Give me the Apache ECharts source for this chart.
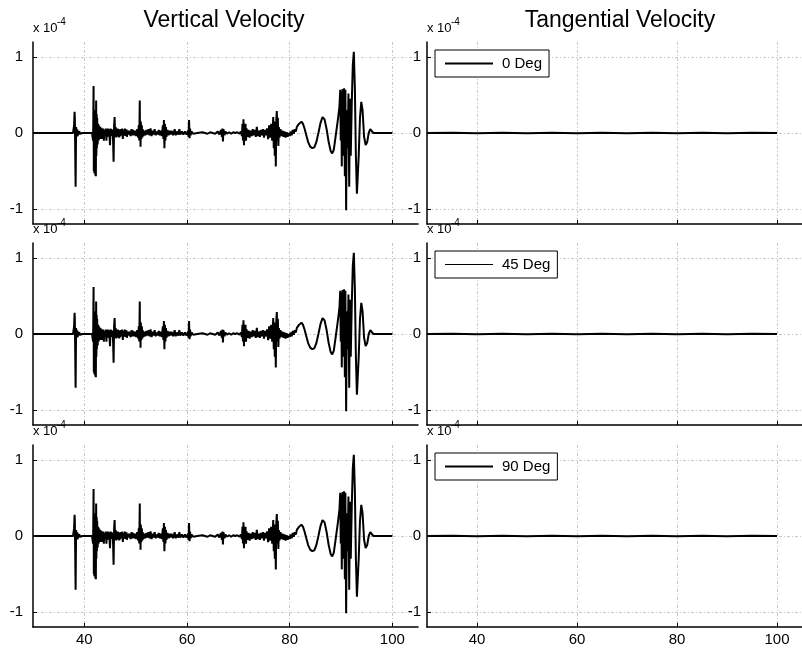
<!DOCTYPE html>
<html><head><meta charset="utf-8">
<script src="https://cdn.jsdelivr.net/npm/echarts@6/dist/echarts.min.js"></script>
<style>html,body{margin:0;padding:0;background:#fff}#c{width:802px;height:651px}</style>
</head><body><div id="c"></div>
<script>
// ---- data (velocities in units of 1e-4) ----
const xTicks = [40, 60, 80, 100];
const yTicks = [-1, 0, 1];
const panelTitles = ['Vertical Velocity', 'Tangential Velocity'];
const angleNames = ['0 Deg', '45 Deg', '90 Deg'];
const verticalVelocity = [
[30,0],[37.8,0],[37.9,0.02],[38.0,0.1],[38.1,0.28],[38.15,0.2],[38.2,-0.1],[38.3,-0.71],[38.35,-0.3],[38.4,0.08],[38.5,-0.05],[38.6,0.05],[38.7,-0.04],[38.8,0.03],[38.9,-0.02],[39.0,0.02],[39.2,-0.01],[39.4,0.01],[39.6,0],[41.5,0],
[41.6,0.02],[41.7,-0.1],[41.75,0.2],[41.8,0.62],[41.85,-0.5],[41.9,0.3],[41.95,-0.53],[42.0,0.25],[42.05,-0.45],[42.1,0.2],[42.15,-0.56],[42.2,0.3],[42.25,-0.57],[42.3,0.43],[42.35,-0.3],[42.4,0.25],[42.45,-0.2],[42.5,0.2],[42.6,-0.15],[42.7,0.12],[42.8,-0.1],[42.9,0.1],[43.0,-0.08],[43.1,0.08],[43.2,-0.06],[43.3,0.07],[43.4,-0.08],[43.5,0.05],[43.6,-0.05],[43.7,0.06],[43.8,-0.1],[43.9,0.04],
[44.0,0.05],[44.1,-0.04],[44.2,0.06],[44.3,-0.1],[44.4,0.05],[44.5,-0.03],[44.6,0.06],[44.7,-0.05],[44.8,0.05],[44.9,-0.03],[45.0,-0.16],[45.1,0.06],[45.2,-0.04],[45.3,0.05],[45.4,-0.03],[45.5,0.04],[45.6,-0.1],[45.7,-0.38],[45.8,0.1],[45.9,0.21],[46.0,-0.05],[46.1,0.08],[46.2,-0.06],[46.3,0.05],[46.4,-0.04],[46.5,0.06],[46.6,-0.05],[46.7,0.04],[46.8,-0.06],[46.9,0.05],[47.0,-0.04],[47.2,0.05],[47.3,-0.03],[47.4,0.06],[47.5,-0.08],[47.6,0.04],[47.8,-0.03],[47.9,0.06],[48.0,-0.04],[48.2,0.05],[48.3,-0.05],[48.4,0.03],[48.6,-0.02],[48.8,0.03],[49.0,-0.04],[49.2,0.05],[49.3,-0.03],[49.5,0.04],[49.7,-0.03],[49.9,0.03],
[50.1,-0.04],[50.3,0.05],[50.5,-0.06],[50.6,0.1],[50.7,-0.1],[50.8,0.43],[50.85,-0.1],[50.9,0.08],[50.95,-0.18],[51.0,0.15],[51.1,-0.08],[51.2,0.1],[51.3,-0.06],[51.4,0.05],[51.5,-0.04],[51.7,0.03],[51.9,-0.03],[52.1,0.04],[52.3,-0.02],[52.5,0.05],[52.7,-0.03],[52.9,0.06],[53.1,-0.04],[53.3,0.03],[53.5,-0.02],[53.7,0.05],[53.9,-0.03],[54.1,0.02],[54.3,-0.02],[54.5,0.04],[54.7,-0.03],[54.9,0.03],[55.1,-0.04],[55.3,0.1],[55.4,-0.08],[55.5,0.17],[55.6,-0.2],[55.7,0.12],[55.8,-0.1],[55.9,0.08],[56.0,-0.05],[56.2,0.04],[56.4,-0.03],[56.6,0.03],[56.8,-0.02],[57.0,0.03],[57.3,-0.03],[57.6,0.05],[57.8,-0.03],[58.0,0.02],[58.3,-0.02],[58.5,0.05],[58.7,-0.02],[59.0,0.02],[59.3,-0.02],[59.6,0.02],[59.9,-0.02],
[60.2,0.03],[60.3,-0.05],[60.4,0.17],[60.5,-0.07],[60.6,0.06],[60.7,-0.03],[60.9,0.02],[61.2,-0.01],[61.5,0.01],[62,0],[63,0.01],[64,-0.01],[64.5,0.01],[65,0],[65.5,-0.01],[66.0,0.02],[66.3,-0.02],[66.6,0.04],[66.8,-0.05],[66.9,0.06],[67.0,-0.11],[67.1,0.05],[67.3,-0.03],[67.5,0.02],[67.8,-0.01],[68.2,0.01],[68.6,-0.01],[69.0,0.01],[69.4,0],[69.8,0.01],
[70.2,-0.01],[70.5,0.02],[70.7,-0.04],[70.8,0.12],[70.9,-0.1],[71.0,0.18],[71.1,-0.16],[71.2,0.1],[71.3,-0.08],[71.4,0.12],[71.5,-0.1],[71.6,0.06],[71.8,-0.05],[72.0,0.04],[72.2,-0.06],[72.4,0.03],[72.6,-0.04],[72.8,0.05],[73.0,-0.03],[73.2,0.04],[73.4,-0.05],[73.6,0.08],[73.8,-0.04],[74.0,0.03],[74.2,-0.05],[74.4,0.04],[74.6,-0.03],[74.8,0.05],[75.0,-0.06],[75.2,0.04],[75.4,-0.03],[75.6,0.06],[75.8,-0.08],[76.0,0.1],[76.2,-0.06],[76.4,0.12],[76.6,-0.1],[76.8,0.21],[76.9,-0.2],[77.0,0.15],[77.1,-0.3],[77.2,0.1],[77.3,-0.44],[77.4,0.18],[77.5,0.29],[77.6,-0.1],[77.7,0.2],[77.8,-0.17],[77.9,0.08],[78.0,-0.06],[78.2,0.05],[78.4,-0.04],[78.6,0.03],[78.8,-0.05],[79.0,0.02],[79.2,-0.06],[79.4,0.01],[79.6,-0.05],[79.8,0.0],
[80.0,-0.04],[80.2,0.02],[80.4,-0.03],[80.6,0.04],[80.8,-0.01],[81.0,0.05],[81.2,0.02],[81.4,0.08],[81.6,0.06],[81.8,0.12],[82.0,0.1],[82.3,0.15],[82.6,0.12],[82.9,0.06],[83.2,-0.02],[83.6,-0.12],[84.0,-0.18],[84.4,-0.2],[84.8,-0.19],[85.2,-0.12],[85.6,0.0],[86.0,0.13],[86.4,0.21],[86.8,0.18],[87.2,0.05],[87.6,-0.12],[88.0,-0.24],[88.3,-0.27],[88.6,-0.22],[89.0,-0.02],[89.4,0.18],
[89.7,0.35],[89.85,0.57],[89.95,-0.1],[90.05,0.55],[90.15,-0.44],[90.3,0.58],[90.45,-0.3],[90.6,0.59],[90.75,-0.57],[90.85,0.57],[91.0,-1.02],[91.15,0.3],[91.3,-0.2],[91.45,0.52],[91.6,-0.71],[91.75,0.45],[91.9,-0.3],[92.1,0.4],[92.3,0.9],[92.5,1.07],[92.7,0.6],[92.9,-0.3],[93.1,-0.8],[93.25,-0.82],[93.45,-0.3],[93.7,0.2],[93.95,0.41],[94.2,0.3],[94.5,-0.05],[94.8,-0.16],[95.1,-0.12],[95.4,0.0],[95.7,0.05],[96.0,0.04],[96.3,0.0],[96.6,-0.01],[97.0,0.0],[100,0]
];
const tangentialVelocity = [
[30,0],[35,0.004],[40,-0.003],[45,0.003],[50,-0.004],[55,0.003],[60,-0.003],[65,0.004],[70,-0.003],[75,0.003],[80,-0.004],[85,0.003],[90,-0.003],[95,0.003],[100,0]
];

// ---- layout ----
const rowTop = [42, 243, 445];
const rowH = 182;
const colLeft = [33, 427];
const colW = [385, 384];
const FONT = 'Liberation Sans, Arial, Helvetica, sans-serif';

const grids = [], xAxes = [], yAxes = [], series = [], legends = [], graphics = [];
let idx = 0;
for (let c = 0; c < 2; c++) {
  for (let r = 0; r < 3; r++) {
    grids.push({left: colLeft[c], top: rowTop[r], width: colW[c], height: rowH, containLabel: false});
    xAxes.push({
      type: 'value', gridIndex: idx, min: 30, max: 105,
      axisLine: {show: true, onZero: false, lineStyle: {color: '#000', width: 1.5}},
      axisTick: {show: true, inside: true, length: 4, customValues: xTicks, lineStyle: {color: '#000', width: 1}},
      axisLabel: {show: r === 2, customValues: xTicks, fontSize: 15, color: '#000', margin: 5, fontFamily: FONT},
      splitLine: {show: true, lineStyle: {color: '#c8c8c8', width: 1, type: [3, 2, 1, 2]}}
    });
    yAxes.push({
      type: 'value', gridIndex: idx, min: -1.2, max: 1.2,
      axisLine: {show: true, onZero: false, lineStyle: {color: '#000', width: 1.5}},
      axisTick: {show: true, inside: true, length: 4, customValues: yTicks, lineStyle: {color: '#000', width: 1}},
      axisLabel: {show: true, customValues: yTicks, fontSize: 15, color: '#000', margin: c === 0 ? 10 : 6, fontFamily: FONT},
      splitLine: {show: true, lineStyle: {color: '#c8c8c8', width: 1, type: [3, 2, 1, 2]}}
    });
    if (c === 0) {
      series.push({
        name: 'Vertical ' + angleNames[r], type: 'line', xAxisIndex: idx, yAxisIndex: idx,
        data: verticalVelocity, symbol: 'none', lineStyle: {color: '#000', width: 2}, z: 3
      });
    } else {
      series.push({
        name: angleNames[r], type: 'line', xAxisIndex: idx, yAxisIndex: idx,
        data: tangentialVelocity, symbol: 'none', color: '#000', lineStyle: {color: '#000', width: 2}, z: 3
      });
      legends.push({
        data: [angleNames[r]], left: 435, top: rowTop[r] + 8, orient: 'horizontal',
        backgroundColor: '#fff', borderColor: '#000', borderWidth: 1, borderRadius: 0,
        padding: [6, 7, 6, 10], icon: 'rect', itemWidth: 48, itemHeight: r === 1 ? 1 : 2, selectedMode: false,
        itemStyle: {color: '#000'},
        textStyle: {fontSize: 15, color: '#000', fontFamily: FONT, padding: [0, 0, 0, 4]}
      });
    }
    // exponent label
    graphics.push({type: 'text', x: colLeft[c], y: rowTop[r] - 7, style: {text: 'x 10', font: '13px ' + FONT, fill: '#000', textVerticalAlign: 'bottom'}});
    graphics.push({type: 'text', x: colLeft[c] + 24, y: rowTop[r] - 15, style: {text: '-4', font: '10px ' + FONT, fill: '#000', textVerticalAlign: 'bottom'}});
    idx++;
  }
}
graphics.push({type: 'text', x: 224, y: 21, style: {text: panelTitles[0], font: '23px ' + FONT, fill: '#000', textAlign: 'center', textVerticalAlign: 'middle'}});
graphics.push({type: 'text', x: 620, y: 21, style: {text: panelTitles[1], font: '23px ' + FONT, fill: '#000', textAlign: 'center', textVerticalAlign: 'middle'}});

const chart = echarts.init(document.getElementById('c'), null, {renderer: 'canvas'});
chart.setOption({
  animation: false,
  backgroundColor: '#fff',
  grid: grids, xAxis: xAxes, yAxis: yAxes, series: series, legend: legends, graphic: graphics
});
</script></body></html>
